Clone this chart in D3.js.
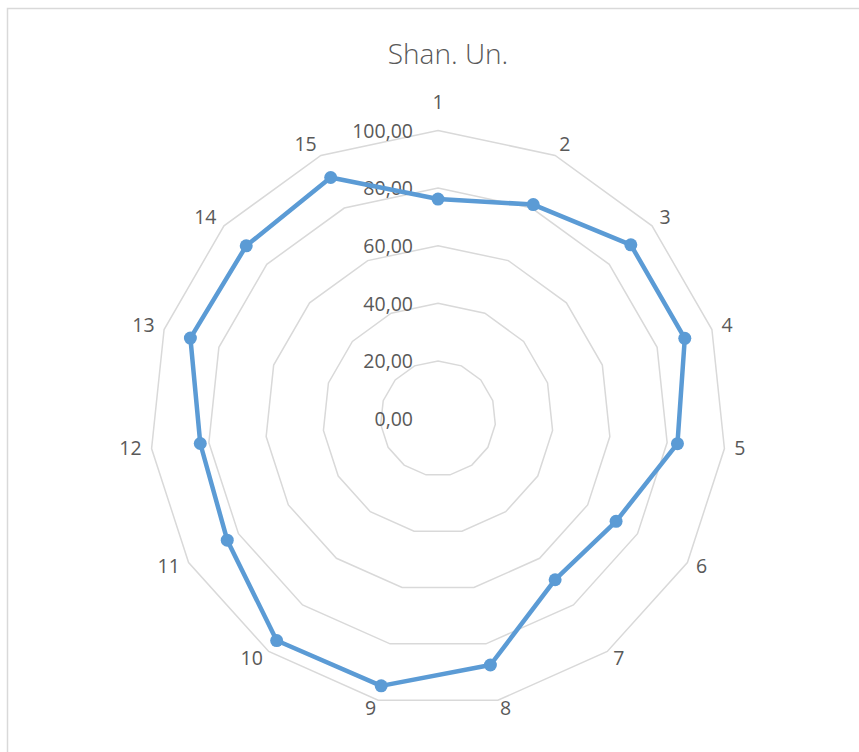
<!DOCTYPE html>
<html>
<head>
<meta charset="utf-8">
<script src="https://cdn.jsdelivr.net/npm/d3@7"></script>
<style>
  body { margin: 0; background: #fff; }
  text { font-family: "Open Sans", "Noto Sans", sans-serif; fill: #595959; }
</style>
</head>
<body>
<script>
// chart data
const categories = ["1","2","3","4","5","6","7","8","9","10","11","12","13","14","15"];
const values = [76.2, 81.3, 90.1, 90.1, 83.6, 71.4, 69.2, 87.5, 94.9, 95.3, 84.5, 83.0, 90.4, 89.6, 91.6];
const ticks = [0, 20, 40, 60, 80, 100];
const title = "Shan. Un.";

const WIDTH = 859;
const HEIGHT = 752;
const CX = 438;        // centre of the radar
const CY = 418.5;
const RADIUS = 288;    // radius of the 100 ring
const LABEL_R = 298;   // where category labels are anchored

const LINE_COLOR = "#5B9BD5";
const GRID_COLOR = "#D9D9D9";

const svg = d3.select("body").append("svg")
    .attr("width", WIDTH)
    .attr("height", HEIGHT);

// chart frame
svg.append("rect")
    .attr("x", 7.5).attr("y", 8.5)
    .attr("width", WIDTH + 20).attr("height", HEIGHT + 20)
    .attr("fill", "white")
    .attr("stroke", GRID_COLOR)
    .attr("stroke-width", 1.5);

const r = d3.scaleLinear().domain([0, 100]).range([0, RADIUS]);
const angle = d3.scalePoint()
    .domain(categories)
    .range([0, 2 * Math.PI * (categories.length - 1) / categories.length]);

function pt(cat, v) {
    const a = angle(cat);
    return [CX + r(v) * Math.sin(a), CY - r(v) * Math.cos(a)];
}

const fmt = d3.formatLocale({decimal: ",", thousands: ".", grouping: [3], currency: ["", ""]}).format(".2f");

// grid rings
const g = svg.append("g");
g.selectAll("polygon.ring")
    .data(ticks.filter(t => t > 0))
    .join("polygon")
    .attr("class", "ring")
    .attr("points", t => categories.map(c => pt(c, t).join(",")).join(" "))
    .attr("fill", "none")
    .attr("stroke", GRID_COLOR)
    .attr("stroke-width", 1.5);

// value axis labels
g.selectAll("text.tick")
    .data(ticks)
    .join("text")
    .attr("class", "tick")
    .attr("x", CX - 25)
    .attr("y", t => CY - r(t) + 2)
    .attr("text-anchor", "end")
    .attr("dominant-baseline", "middle")
    .attr("font-size", 19.5)
    .text(t => fmt(t));

// category labels: start-anchored on the right, end-anchored on the left
g.selectAll("text.cat")
    .data(categories)
    .join("text")
    .attr("class", "cat")
    .attr("font-size", 19.5)
    .attr("dominant-baseline", "middle")
    .each(function(c) {
        const a = angle(c);
        const s = Math.sin(a);
        const top = Math.abs(s) < 0.01;
        const rr = top ? LABEL_R + 17 : LABEL_R;
        d3.select(this)
            .attr("text-anchor", top ? "middle" : (s > 0 ? "start" : "end"))
            .attr("x", CX + rr * s)
            .attr("y", CY - rr * Math.cos(a));
    })
    .text(c => c);

// series line
const line = d3.line().curve(d3.curveLinearClosed);
svg.append("path")
    .datum(categories.map((c, i) => pt(c, values[i])))
    .attr("d", line)
    .attr("fill", "none")
    .attr("stroke", LINE_COLOR)
    .attr("stroke-width", 4.5)
    .attr("stroke-linejoin", "round");

svg.selectAll("circle.marker")
    .data(categories)
    .join("circle")
    .attr("class", "marker")
    .attr("cx", (c, i) => pt(c, values[i])[0])
    .attr("cy", (c, i) => pt(c, values[i])[1])
    .attr("r", 6.5)
    .attr("fill", LINE_COLOR);

// title
svg.append("text")
    .attr("x", CX + 10)
    .attr("y", 57)
    .attr("text-anchor", "middle")
    .attr("dominant-baseline", "middle")
    .attr("font-size", 28)
    .attr("font-weight", 300)
    .text(title);
</script>
</body>
</html>
